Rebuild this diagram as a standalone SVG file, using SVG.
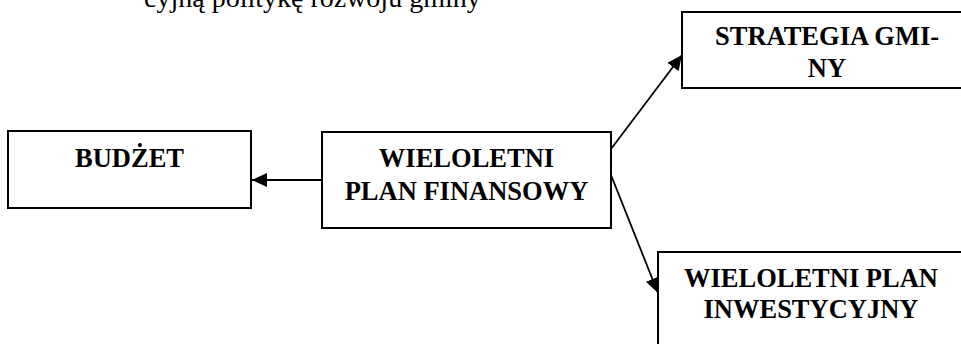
<svg xmlns="http://www.w3.org/2000/svg" width="961" height="344" viewBox="0 0 961 344">
<style>
.box{fill:#fff;stroke:#000;stroke-width:2}
.t{font-family:"Liberation Serif","Times New Roman",serif;font-weight:bold;font-size:26.5px;text-anchor:middle;fill:#000}
.body{font-family:"Liberation Serif","Times New Roman",serif;font-size:28px;fill:#000}
.c{stroke:#000;stroke-width:1.8;fill:none}
</style>
<defs>
<marker id="ah" markerUnits="userSpaceOnUse" markerWidth="16" markerHeight="14" refX="15" refY="7" orient="auto">
<path d="M0,0 L15,7 L0,14 Z" fill="#000"/>
</marker>
</defs>
<rect width="961" height="344" fill="#fff"/>
<text class="body" x="144" y="7">cyjną politykę rozwoju gminy</text>
<g id="connectors">
<line class="c" x1="322" y1="180" x2="252" y2="180" marker-end="url(#ah)"/>
<line class="c" x1="611" y1="149" x2="682" y2="55" marker-end="url(#ah)"/>
<line class="c" x1="611" y1="175" x2="658" y2="293" marker-end="url(#ah)"/>
</g>
<g id="budzet">
<rect class="box" x="8" y="131" width="243" height="77"/>
<text class="t" x="129.5" y="167">BUDŻET</text>
</g>
<g id="wpf">
<rect class="box" x="322" y="132" width="289" height="96"/>
<text class="t" x="466.5" y="167">WIELOLETNI</text>
<text class="t" x="466.5" y="200">PLAN FINANSOWY</text>
</g>
<g id="strategia">
<rect class="box" x="682" y="12" width="300" height="76"/>
<text class="t" x="827" y="45">STRATEGIA GMI-</text>
<text class="t" x="827" y="77">NY</text>
</g>
<g id="wpi">
<rect class="box" x="658" y="252" width="320" height="120"/>
<text class="t" x="811" y="287">WIELOLETNI PLAN</text>
<text class="t" x="811" y="318">INWESTYCYJNY</text>
</g>
</svg>
